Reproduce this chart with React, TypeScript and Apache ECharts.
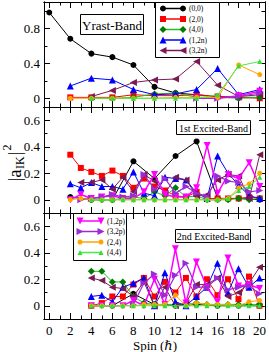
import React, { useEffect, useRef } from "react";
import * as echarts from "echarts";

const FONT = "'Liberation Serif', 'Times New Roman', 'DejaVu Serif', 'Noto Serif', serif";

// ---------- data ----------
const SERIES_NAMES = ["(0,0)", "(2,0)", "(4,0)", "(1,2n)", "(3,2n)", "(1,2p)", "(3,2p)", "(2,4)", "(4,4)"];
const X_MAJOR = [0, 2, 4, 6, 8, 10, 12, 14, 16, 18, 20];
const X_MINOR = [1, 3, 5, 7, 9, 11, 13, 15, 17, 19];

// Yrast band (even spins 0..20)
const SPIN_TOP = [0, 2, 4, 6, 8, 10, 12, 14, 16, 18, 20];
const T_00 = [0.98, 0.68, 0.51, 0.47, 0.38, 0.13, 0.06, 0.04, 0.02, 0.01, 0.01];
const T_20 = [null, 0.01, 0.01, 0.01, 0.04, 0.03, 0.03, 0.04, 0.02, 0.01, 0.0];
const T_40 = [null, null, 0.0, 0.0, 0.01, 0.05, 0.06, 0.01, 0.01, 0.0, 0.01];
const T_12N = [null, 0.14, 0.23, 0.21, 0.1, 0.04, 0.05, 0.1, 0.34, 0.04, 0.1];
const T_32N = [null, null, 0.02, 0.09, 0.18, 0.21, 0.22, 0.42, 0.15, 0.02, 0.04];
const T_12P = [null, null, null, null, null, null, null, 0.0, 0.0, 0.03, 0.08];
const T_32P = [null, null, null, null, null, null, null, 0.0, 0.0, 0.02, 0.06];
const T_24 = [null, 0.0, 0.0, 0.0, 0.0, 0.0, 0.01, 0.01, 0.01, 0.38, 0.27];
const T_44 = [null, null, 0.0, 0.0, 0.0, 0.0, 0.0, 0.0, 0.04, 0.37, 0.42];

// 1st excited band (spins 2..20)
const SPIN_MID = [2, 3, 4, 5, 6, 7, 8, 9, 10, 11, 12, 13, 14, 15, 16, 17, 18, 19, 20];
const M_00 = [0.02, null, 0.0, null, 0.0, null, 0.29, null, 0.16, null, 0.33, null, 0.44, null, 0.01, null, 0.01, null, 0.0];
const M_20 = [0.34, 0.24, 0.21, 0.18, 0.22, 0.18, 0.09, 0.16, 0.1, 0.07, 0.03, 0.02, 0.06, 0.01, 0.01, 0.01, 0.01, 0.02, 0.01];
const M_40 = [null, null, 0.0, 0.0, 0.0, 0.01, 0.02, 0.01, 0.06, 0.03, 0.09, 0.02, 0.03, 0.0, 0.0, 0.0, 0.01, 0.0, 0.01];
const M_12N = [0.12, 0.09, 0.13, 0.1, 0.1, 0.08, 0.21, 0.05, 0.03, 0.17, 0.16, 0.15, 0.05, 0.01, 0.33, 0.2, 0.11, 0.03, 0.01];
const M_32N = [null, 0.13, 0.13, 0.15, 0.08, 0.17, 0.06, 0.19, 0.14, 0.05, 0.17, 0.15, 0.03, 0.04, 0.15, 0.19, 0.18, 0.01, 0.34];
const M_12P = [0.0, 0.04, 0.01, 0.02, 0.03, 0.01, 0.01, 0.06, 0.19, 0.04, 0.02, 0.02, 0.09, 0.41, 0.05, 0.19, 0.16, 0.28, 0.1];
const M_32P = [null, 0.0, 0.01, 0.02, 0.04, 0.02, 0.03, 0.19, 0.08, 0.16, 0.05, 0.1, 0.05, 0.02, 0.18, 0.14, 0.13, 0.06, 0.07];
const M_24 = [0.0, 0.01, 0.0, 0.0, 0.0, 0.0, 0.0, 0.0, 0.0, 0.0, 0.0, 0.0, 0.0, 0.0, 0.0, 0.01, 0.09, 0.12, 0.2];
const M_44 = [null, null, 0.0, 0.0, 0.0, 0.0, 0.0, 0.0, 0.0, 0.0, 0.0, 0.0, 0.0, 0.0, 0.0, 0.01, 0.07, 0.1, 0.17];

// 2nd excited band (spins 4..20)
const SPIN_LOW = [4, 5, 6, 7, 8, 9, 10, 11, 12, 13, 14, 15, 16, 17, 18, 19, 20];
const L_00 = [0.0, null, 0.0, null, 0.09, null, 0.01, null, 0.0, null, 0.01, null, 0.0, null, 0.0, null, 0.0];
const L_20 = [0.0, 0.02, 0.07, 0.07, 0.16, 0.21, 0.07, 0.18, 0.1, 0.21, 0.07, 0.2, 0.08, 0.2, 0.05, 0.22, 0.0];
const L_40 = [0.26, 0.26, 0.18, 0.18, 0.07, 0.02, 0.01, 0.01, 0.01, 0.01, 0.02, 0.01, 0.01, 0.01, 0.01, 0.01, 0.01];
const L_12N = [0.07, 0.08, 0.03, 0.14, 0.17, 0.21, 0.0, 0.25, 0.03, 0.0, 0.07, 0.14, 0.32, 0.1, 0.28, 0.14, 0.21];
const L_32N = [0.21, 0.19, 0.14, 0.13, 0.07, 0.18, 0.0, 0.14, 0.0, 0.02, 0.16, 0.16, 0.21, 0.07, 0.1, 0.17, 0.29];
const L_12P = [0.0, 0.0, 0.0, 0.0, 0.04, 0.0, 0.2, 0.01, 0.43, 0.02, 0.33, 0.14, 0.03, 0.36, 0.15, 0.16, 0.13];
const L_32P = [null, null, null, null, 0.01, 0.17, 0.24, 0.08, 0.23, 0.32, 0.14, 0.14, 0.21, 0.12, 0.14, 0.15, 0.09];
const L_24 = [0.0, 0.0, 0.0, 0.0, 0.0, 0.01, 0.01, 0.01, 0.08, 0.0, 0.02, 0.01, 0.01, 0.01, 0.0, 0.03, 0.04];
const L_44 = [0.0, 0.0, 0.0, 0.0, 0.0, 0.0, 0.0, 0.0, 0.0, 0.0, 0.0, 0.0, 0.0, 0.0, 0.0, 0.0, 0.0];

const PANEL_TITLES = ["Yrast-Band", "1st Excited-Band", "2nd Excited-Band"];
const Y_RANGES = [[-0.1, 1.1], [-0.1, 0.7], [-0.1, 0.7]];
const Y_MAJOR = [[0, 0.4, 0.8], [0, 0.2, 0.4, 0.6], [0, 0.2, 0.4, 0.6]];
const Y_MINOR = [[0.2, 0.6, 1.0], [0.1, 0.3, 0.5], [0.1, 0.3, 0.5]];

const PANELS = [
  { spins: SPIN_TOP, sets: [T_00, T_20, T_40, T_12N, T_32N, T_12P, T_32P, T_24, T_44] },
  { spins: SPIN_MID, sets: [M_00, M_20, M_40, M_12N, M_32N, M_12P, M_32P, M_24, M_44] },
  { spins: SPIN_LOW, sets: [L_00, L_20, L_40, L_12N, L_32N, L_12P, L_32P, L_24, L_44] },
];

// ---------- styles ----------
const STY = [
  { color: "#000000", mcolor: "#000000", symbol: "circle", rot: 0, size: 6, lw: 1 },
  { color: "#ff0000", mcolor: "#ff0000", symbol: "rect", rot: 0, size: 6, lw: 1 },
  { color: "#22c022", mcolor: "#007a00", symbol: "diamond", rot: 0, size: 7, lw: 1 },
  { color: "#0000ff", mcolor: "#0000ff", symbol: "triangle", rot: 0, size: 7, lw: 1 },
  { color: "#7a1a55", mcolor: "#7a1a55", symbol: "triangle", rot: 90, size: 7, lw: 1 },
  { color: "#ff00ff", mcolor: "#ff00ff", symbol: "triangle", rot: 180, size: 7, lw: 1.5 },
  { color: "#9a2bd6", mcolor: "#9a2bd6", symbol: "triangle", rot: -90, size: 7, lw: 1.2 },
  { color: "#ffa500", mcolor: "#ffa500", symbol: "circle", rot: 0, size: 5, lw: 1 },
  { color: "#44ee44", mcolor: "#33dd33", symbol: "triangle", rot: 0, size: 5, lw: 1 },
];

const LEFT = 44;
const WIDTH = 221;
const GRIDS = [
  { top: 2, height: 105 },
  { top: 107, height: 106 },
  { top: 213, height: 106 },
];

function markerShape(kind: string, rot: number, cx: number, cy: number, size: number, color: string) {
  const r = size / 2;
  const style = { fill: color };
  if (kind === "circle") return { type: "circle", shape: { cx, cy, r }, style, z: 101 };
  if (kind === "rect") return { type: "rect", shape: { x: cx - r, y: cy - r, width: size, height: size }, style, z: 101 };
  if (kind === "diamond")
    return { type: "polygon", shape: { points: [[cx, cy - r], [cx + r, cy], [cx, cy + r], [cx - r, cy]] }, style, z: 101 };
  let pts: number[][];
  if (rot === 180) pts = [[cx - r, cy - r], [cx + r, cy - r], [cx, cy + r]];
  else if (rot === 90) pts = [[cx + r, cy - r], [cx + r, cy + r], [cx - r, cy]];
  else if (rot === -90) pts = [[cx - r, cy - r], [cx - r, cy + r], [cx + r, cy]];
  else pts = [[cx, cy - r], [cx + r, cy + r], [cx - r, cy + r]];
  return { type: "polygon", shape: { points: pts }, style, z: 101 };
}

function txt(x: number, y: number, text: string, size: number, align = "left") {
  return {
    type: "text",
    x,
    y,
    z: 101,
    style: { text, fontFamily: FONT, fontSize: size, fill: "#000", align, verticalAlign: "middle" },
  };
}

function legendGraphics(box: number[], idxs: number[], y0: number, step: number, x1: number, x2: number, tx: number) {
  const els: any[] = [
    {
      type: "rect",
      shape: { x: box[0], y: box[1], width: box[2], height: box[3] },
      style: { fill: "#ffffff", stroke: "#000000", lineWidth: 1 },
      z: 100,
    },
  ];
  idxs.forEach((si, k) => {
    const y = y0 + k * step;
    const s = STY[si];
    els.push({ type: "line", shape: { x1, y1: y, x2, y2: y }, style: { stroke: s.color, lineWidth: 1.5 }, z: 101 });
    els.push(markerShape(s.symbol, s.rot, x1, y, s.size, s.mcolor));
    els.push(markerShape(s.symbol, s.rot, x2, y, s.size, s.mcolor));
    els.push(txt(tx, y, SERIES_NAMES[si], 7.5));
  });
  return els;
}

function titleBox(x: number, y: number, w: number, h: number, text: string, size: number) {
  return [
    { type: "rect", shape: { x, y, width: w, height: h }, style: { fill: "#fff", stroke: "#000", lineWidth: 1 }, z: 100 },
    txt(x + w / 2, y + h / 2 + 0.5, text, size, "center"),
  ];
}

function buildOption() {
  const grid = GRIDS.map((g) => ({ left: LEFT, width: WIDTH, top: g.top, height: g.height, show: false }));
  const xAxis: any[] = [];
  const yAxis: any[] = [];
  GRIDS.forEach((_, g) => {
    const mk = (pos: string, ticks: number[], len: number, labels: boolean) => ({
      type: "value",
      gridIndex: g,
      position: pos,
      min: -0.5,
      max: 20.5,
      axisLine: { show: true, onZero: false, lineStyle: { color: "#000", width: 1 } },
      axisTick: { show: true, inside: true, length: len, customValues: ticks, lineStyle: { color: "#000", width: 1 } },
      axisLabel: {
        show: labels,
        customValues: X_MAJOR,
        margin: 5,
        color: "#000",
        fontFamily: FONT,
        fontSize: 13,
      },
      splitLine: { show: false },
    });
    xAxis.push(mk("bottom", X_MAJOR, 6, g === 2));
    xAxis.push(mk("bottom", X_MINOR, 3.5, false));
    xAxis.push(mk("top", X_MAJOR, 6, false));
    xAxis.push(mk("top", X_MINOR, 3.5, false));

    const mky = (pos: string, ticks: number[], len: number, labels: boolean) => ({
      type: "value",
      gridIndex: g,
      position: pos,
      min: Y_RANGES[g][0],
      max: Y_RANGES[g][1],
      axisLine: { show: true, onZero: false, lineStyle: { color: "#000", width: 1 } },
      axisTick: { show: true, inside: true, length: len, customValues: ticks, lineStyle: { color: "#000", width: 1 } },
      axisLabel: {
        show: labels,
        customValues: Y_MAJOR[g],
        margin: 4,
        color: "#000",
        fontFamily: FONT,
        fontSize: 13,
        formatter: (v: number) => String(Math.round(v * 10) / 10),
      },
      splitLine: { show: false },
    });
    yAxis.push(mky("left", Y_MAJOR[g], 6, true));
    yAxis.push(mky("left", Y_MINOR[g], 3.5, false));
    yAxis.push(mky("right", Y_MAJOR[g], 6, false));
    yAxis.push(mky("right", Y_MINOR[g], 3.5, false));
  });

  const series: any[] = [];
  PANELS.forEach((p, g) => {
    p.sets.forEach((vals, si) => {
      const s = STY[si];
      const data = p.spins
        .map((sp, i) => [sp, vals[i]])
        .filter((d) => d[1] !== null && d[1] !== undefined);
      series.push({
        type: "line",
        name: SERIES_NAMES[si],
        xAxisIndex: g * 4,
        yAxisIndex: g * 4,
        data,
        symbol: s.symbol,
        symbolSize: s.size,
        symbolRotate: s.rot,
        showSymbol: true,
        itemStyle: { color: s.mcolor, borderWidth: 0 },
        lineStyle: { color: s.color, width: s.lw },
        z: 2 + si * 0.01,
        silent: true,
      });
    });
  });

  const graphic: any[] = [
    ...titleBox(80.5, 14.5, 63, 20, PANEL_TITLES[0], 13),
    ...titleBox(176.5, 120.5, 74, 14, PANEL_TITLES[1], 10),
    ...titleBox(175.5, 229.5, 75, 13, PANEL_TITLES[2], 10),
    ...legendGraphics([155.5, 2.5, 64, 55], [0, 1, 2, 3, 4], 8.5, 10.5, 163, 183, 189),
    ...legendGraphics([73.5, 213.5, 53, 47], [5, 6, 7, 8], 221, 10.5, 80, 101, 107),
    txt(155, 345, "Spin (\u210F)", 13, "center"),
    {
      type: "group",
      x: 14,
      y: 155.5,
      rotation: Math.PI / 2,
      z: 101,
      children: [
        txt(-26, 0, "|a", 19),
        txt(-13.5, 5.5, "IK", 12),
        txt(0, 0, "|", 19),
        txt(5, -7, "2", 12),
      ],
    },
  ];

  return {
    animation: false,
    backgroundColor: "#ffffff",
    textStyle: { fontFamily: FONT },
    grid,
    xAxis,
    yAxis,
    series,
    graphic,
  };
}

export default function App() {
  const ref = useRef<HTMLDivElement>(null);
  useEffect(() => {
    if (!ref.current) return;
    const chart = echarts.init(ref.current, undefined, { renderer: "svg" });
    chart.setOption(buildOption() as any);
    return () => chart.dispose();
  }, []);
  return (
    <div
      ref={ref}
      style={{ position: "fixed", left: 0, top: 0, width: 269, height: 352, background: "#fff" }}
    />
  );
}
